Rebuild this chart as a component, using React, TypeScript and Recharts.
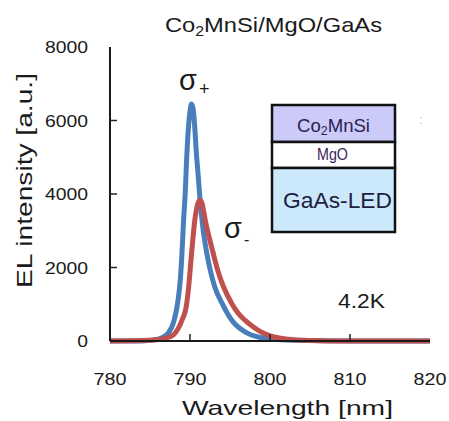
import React from 'react';
import { LineChart, Line, XAxis, YAxis } from 'recharts';

const xTicks = [780, 790, 800, 810, 820];
const yTicks = [0, 2000, 4000, 6000, 8000];

const blueWavelength = [780, 784, 785.5, 786.5, 787.3, 788.0, 788.5, 788.8, 789.0, 789.2, 789.4, 789.55, 789.8, 790.0, 790.2, 790.4, 790.6, 790.8, 791.0, 791.25, 791.6, 792.1, 793.1, 794.0, 795.2, 797.1, 798.5, 800, 803, 810, 820];
const blueIntensity = [0, 0, 30, 90, 220, 550, 1100, 1700, 2400, 3300, 4000, 4800, 5800, 6250, 6450, 6300, 5800, 5100, 4570, 3850, 3100, 2390, 1470, 1030, 570, 220, 110, 60, 20, 0, 0];

const redWavelength = [780, 785, 786, 787, 787.9, 788.5, 789.0, 789.5, 789.8, 790.2, 790.6, 791.0, 791.25, 791.5, 791.9, 792.9, 793.5, 794.2, 795.2, 796.0, 796.9, 797.8, 798.75, 800, 802, 805, 810, 820];
const redIntensity = [0, 20, 40, 80, 160, 330, 570, 900, 1400, 2390, 3290, 3750, 3830, 3750, 3290, 2390, 1900, 1470, 1030, 760, 560, 400, 260, 140, 55, 15, 0, 0];

const blueData = blueWavelength.map((x, i) => ({ x, y: blueIntensity[i] }));
const redData = redWavelength.map((x, i) => ({ x, y: redIntensity[i] }));

const FONT = '"Liberation Sans", Arial, sans-serif';
const TXT = '#1a1a1a';

const XTick = (props: any) => {
  const { x, y, payload } = props;
  const v = payload.value;
  const inner = v > 780 && v < 820;
  return (
    <g>
      {inner && <line x1={x} x2={x} y1={y} y2={y - 7} stroke="#222" strokeWidth={1.5} />}
      <text x={x} y={y + 44} textAnchor="middle" fontSize={17} fontFamily={FONT} fill={TXT}
        textLength={String(v).length * 11} lengthAdjust="spacingAndGlyphs">{v}</text>
    </g>
  );
};

const YTick = (props: any) => {
  const { x, y, payload } = props;
  const v = payload.value;
  const inner = v > 0 && v < 8000;
  const s = String(v);
  return (
    <g>
      {inner && <line x1={x} x2={x + 7} y1={y} y2={y} stroke="#222" strokeWidth={1.5} />}
      <text x={x - 22} y={y + 6} textAnchor="end" fontSize={17} fontFamily={FONT} fill={TXT}
        textLength={s.length * 10.75} lengthAdjust="spacingAndGlyphs">{s}</text>
    </g>
  );
};

export default function App() {
  return (
    <div style={{ position: 'absolute', left: 0, top: 0, width: 449, height: 421, background: '#fff' }}>
      <LineChart width={449} height={421} margin={{ top: 47, right: 19, bottom: 50, left: 0 }}>
        <XAxis xAxisId="b" dataKey="x" type="number" domain={[780, 820]} ticks={xTicks} interval={0}
          height={30} tickSize={0} tickMargin={0} tickLine={false} allowDataOverflow
          axisLine={{ stroke: '#1a1a1a', strokeWidth: 2 }} tick={XTick} />
        <XAxis xAxisId="t" orientation="top" dataKey="x" type="number" domain={[780, 820]} height={0}
          tick={false} tickLine={false} axisLine={{ stroke: '#333', strokeWidth: 2 }} />
        <YAxis yAxisId="l" type="number" domain={[0, 8000]} ticks={yTicks} interval={0} width={110}
          tickSize={0} tickMargin={0} tickLine={false} axisLine={{ stroke: '#1a1a1a', strokeWidth: 2 }} tick={YTick} />
        <YAxis yAxisId="r" orientation="right" type="number" domain={[0, 8000]} width={0}
          tick={false} tickLine={false} axisLine={{ stroke: '#8c8c8c', strokeWidth: 2 }} />
        <Line xAxisId="b" yAxisId="l" data={blueData} dataKey="y" type="monotone" stroke="#4a7ebb"
          strokeWidth={5} dot={false} isAnimationActive={false} strokeLinejoin="round" />
        <Line xAxisId="b" yAxisId="l" data={redData} dataKey="y" type="monotone" stroke="#c0504d"
          strokeWidth={5} dot={false} isAnimationActive={false} strokeLinejoin="round" />
      </LineChart>
      <svg width={449} height={421} style={{ position: 'absolute', left: 0, top: 0, pointerEvents: 'none' }}
        fontFamily={FONT}>
        <text x={165} y={32} fontSize={21} fill={TXT} textLength={217} lengthAdjust="spacingAndGlyphs">
          Co<tspan fontSize={14} dy={4}>2</tspan><tspan dy={-4}>MnSi/MgO/GaAs</tspan>
        </text>
        <text transform="translate(32,180.5) rotate(-90)" textAnchor="middle" fontSize={22} fill={TXT}
          textLength={215} lengthAdjust="spacingAndGlyphs">EL intensity  [a.u.]</text>
        <text x={182} y={415} fontSize={21} fill={TXT} textLength={211} lengthAdjust="spacingAndGlyphs">
          Wavelength  [nm]
        </text>
        <text x={179} y={90} fontSize={29} fill={TXT}>σ</text>
        <text x={199} y={95} fontSize={18} fill={TXT}>+</text>
        <text x={224} y={238} fontSize={29} fill={TXT}>σ</text>
        <text x={244} y={245} fontSize={16} fill={TXT}>-</text>
        <text x={338} y={308} fontSize={21} fill={TXT} textLength={47} lengthAdjust="spacingAndGlyphs">4.2K</text>
        <rect x={272} y={105} width={123} height={37} fill="#cbcaf8" stroke="#111" strokeWidth={2.5} />
        <rect x={272} y={142} width={123} height={26} fill="#ffffff" stroke="#111" strokeWidth={2.5} />
        <rect x={272} y={168} width={123} height={64} fill="#cce9fb" stroke="#111" strokeWidth={2.5} />
        <text x={297} y={132} fontSize={18} fill="#2b2250" textLength={73} lengthAdjust="spacingAndGlyphs">
          Co<tspan fontSize={12} dy={3}>2</tspan><tspan dy={-3}>MnSi</tspan>
        </text>
        <text x={332.5} y={160} textAnchor="middle" fontSize={16} fill="#3a1f5a" textLength={31} lengthAdjust="spacingAndGlyphs">MgO</text>
        <text x={283} y={208} fontSize={22} fill="#1f2040" textLength={109} lengthAdjust="spacingAndGlyphs">GaAs-LED</text>
        <text x={419} y={124} fontSize={12} fill="#9cc3ea">:</text>
      </svg>
    </div>
  );
}
